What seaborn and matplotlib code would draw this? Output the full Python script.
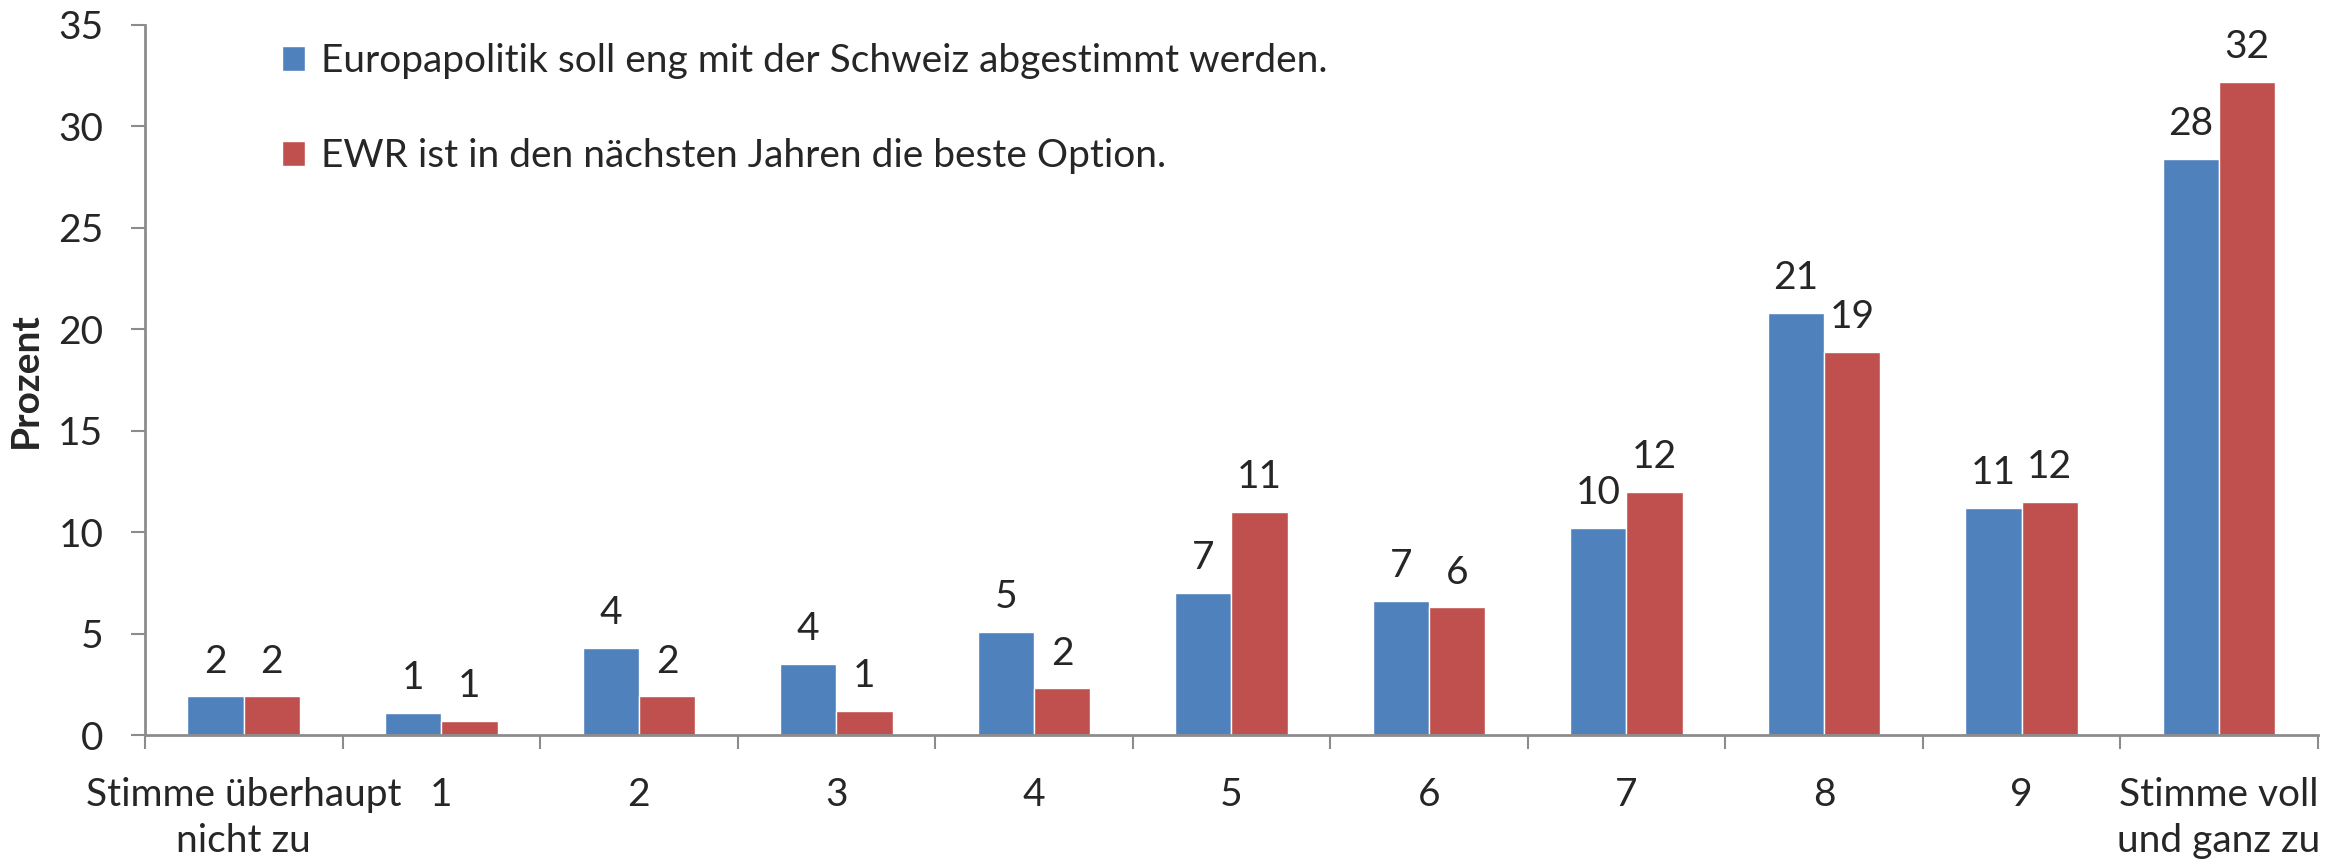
import matplotlib
matplotlib.use("Agg")
import matplotlib.pyplot as plt
import pandas as pd
import numpy as np
import seaborn as sns
from matplotlib.ticker import FixedLocator

categories = ["Stimme überhaupt\nnicht zu", "1", "2", "3", "4", "5", "6", "7", "8", "9",
              "Stimme voll\nund ganz zu"]
series = ["Europapolitik soll eng mit der Schweiz abgestimmt werden.",
          "EWR ist in den nächsten Jahren die beste Option."]
europa = [1.9, 1.1, 4.3, 3.5, 5.1, 7.0, 6.6, 10.2, 20.8, 11.2, 28.4]
ewr = [1.9, 0.7, 1.9, 1.2, 2.3, 11.0, 6.3, 12.0, 18.9, 11.5, 32.2]
colors = ["#4F81BD", "#C0504D"]

df = pd.DataFrame({
    "kategorie": categories * 2,
    "prozent": europa + ewr,
    "serie": [series[0]] * len(categories) + [series[1]] * len(categories),
})

sns.set_style("white")
plt.rcParams["font.family"] = ["Lato", "DejaVu Sans"]

fig = plt.figure(figsize=(23.46, 8.61), dpi=100)
ax = fig.add_axes([0.0618, 0.1463, 0.9262, 0.8247])

sns.barplot(data=df, x="kategorie", y="prozent", hue="serie", palette=colors,
            width=0.57, gap=0, saturation=1, ax=ax, legend=True)

for c in ax.containers:
    ax.bar_label(c, fmt="%.0f", padding=12, fontsize=28)

ax.set_ylim(0, 35)
ax.set_xlim(-0.5, len(categories) - 0.5)
ax.set_yticks(np.arange(0, 36, 5))
ax.set_xlabel("")
ax.set_ylabel("Prozent", fontsize=28, fontweight="bold")
ax.yaxis.set_label_coords(-0.047, 0.5)

# spines
for s in ["top", "right"]:
    ax.spines[s].set_visible(False)
for s in ["left", "bottom"]:
    ax.spines[s].set_color("#8C8C8C")
    ax.spines[s].set_linewidth(2)

ax.tick_params(axis="y", which="major", direction="out", length=10, width=1.5,
               color="#8C8C8C", labelsize=28, pad=20, left=True)
ax.tick_params(axis="x", which="major", length=0, labelsize=28, pad=30)
for t in ax.get_xticklabels():
    t.set_linespacing(1.35)
ax.xaxis.set_minor_locator(FixedLocator(np.arange(-0.5, len(categories), 1)))
ax.tick_params(axis="x", which="minor", direction="out", length=10, width=1.5,
               color="#8C8C8C", bottom=True)

leg = ax.legend(loc="upper left", bbox_to_anchor=(0.047, 1.024), frameon=False,
                fontsize=28, handlelength=0.6, handleheight=0.6, handletextpad=0.4,
                labelspacing=1.52)

fig.savefig("out.png", dpi=100)
